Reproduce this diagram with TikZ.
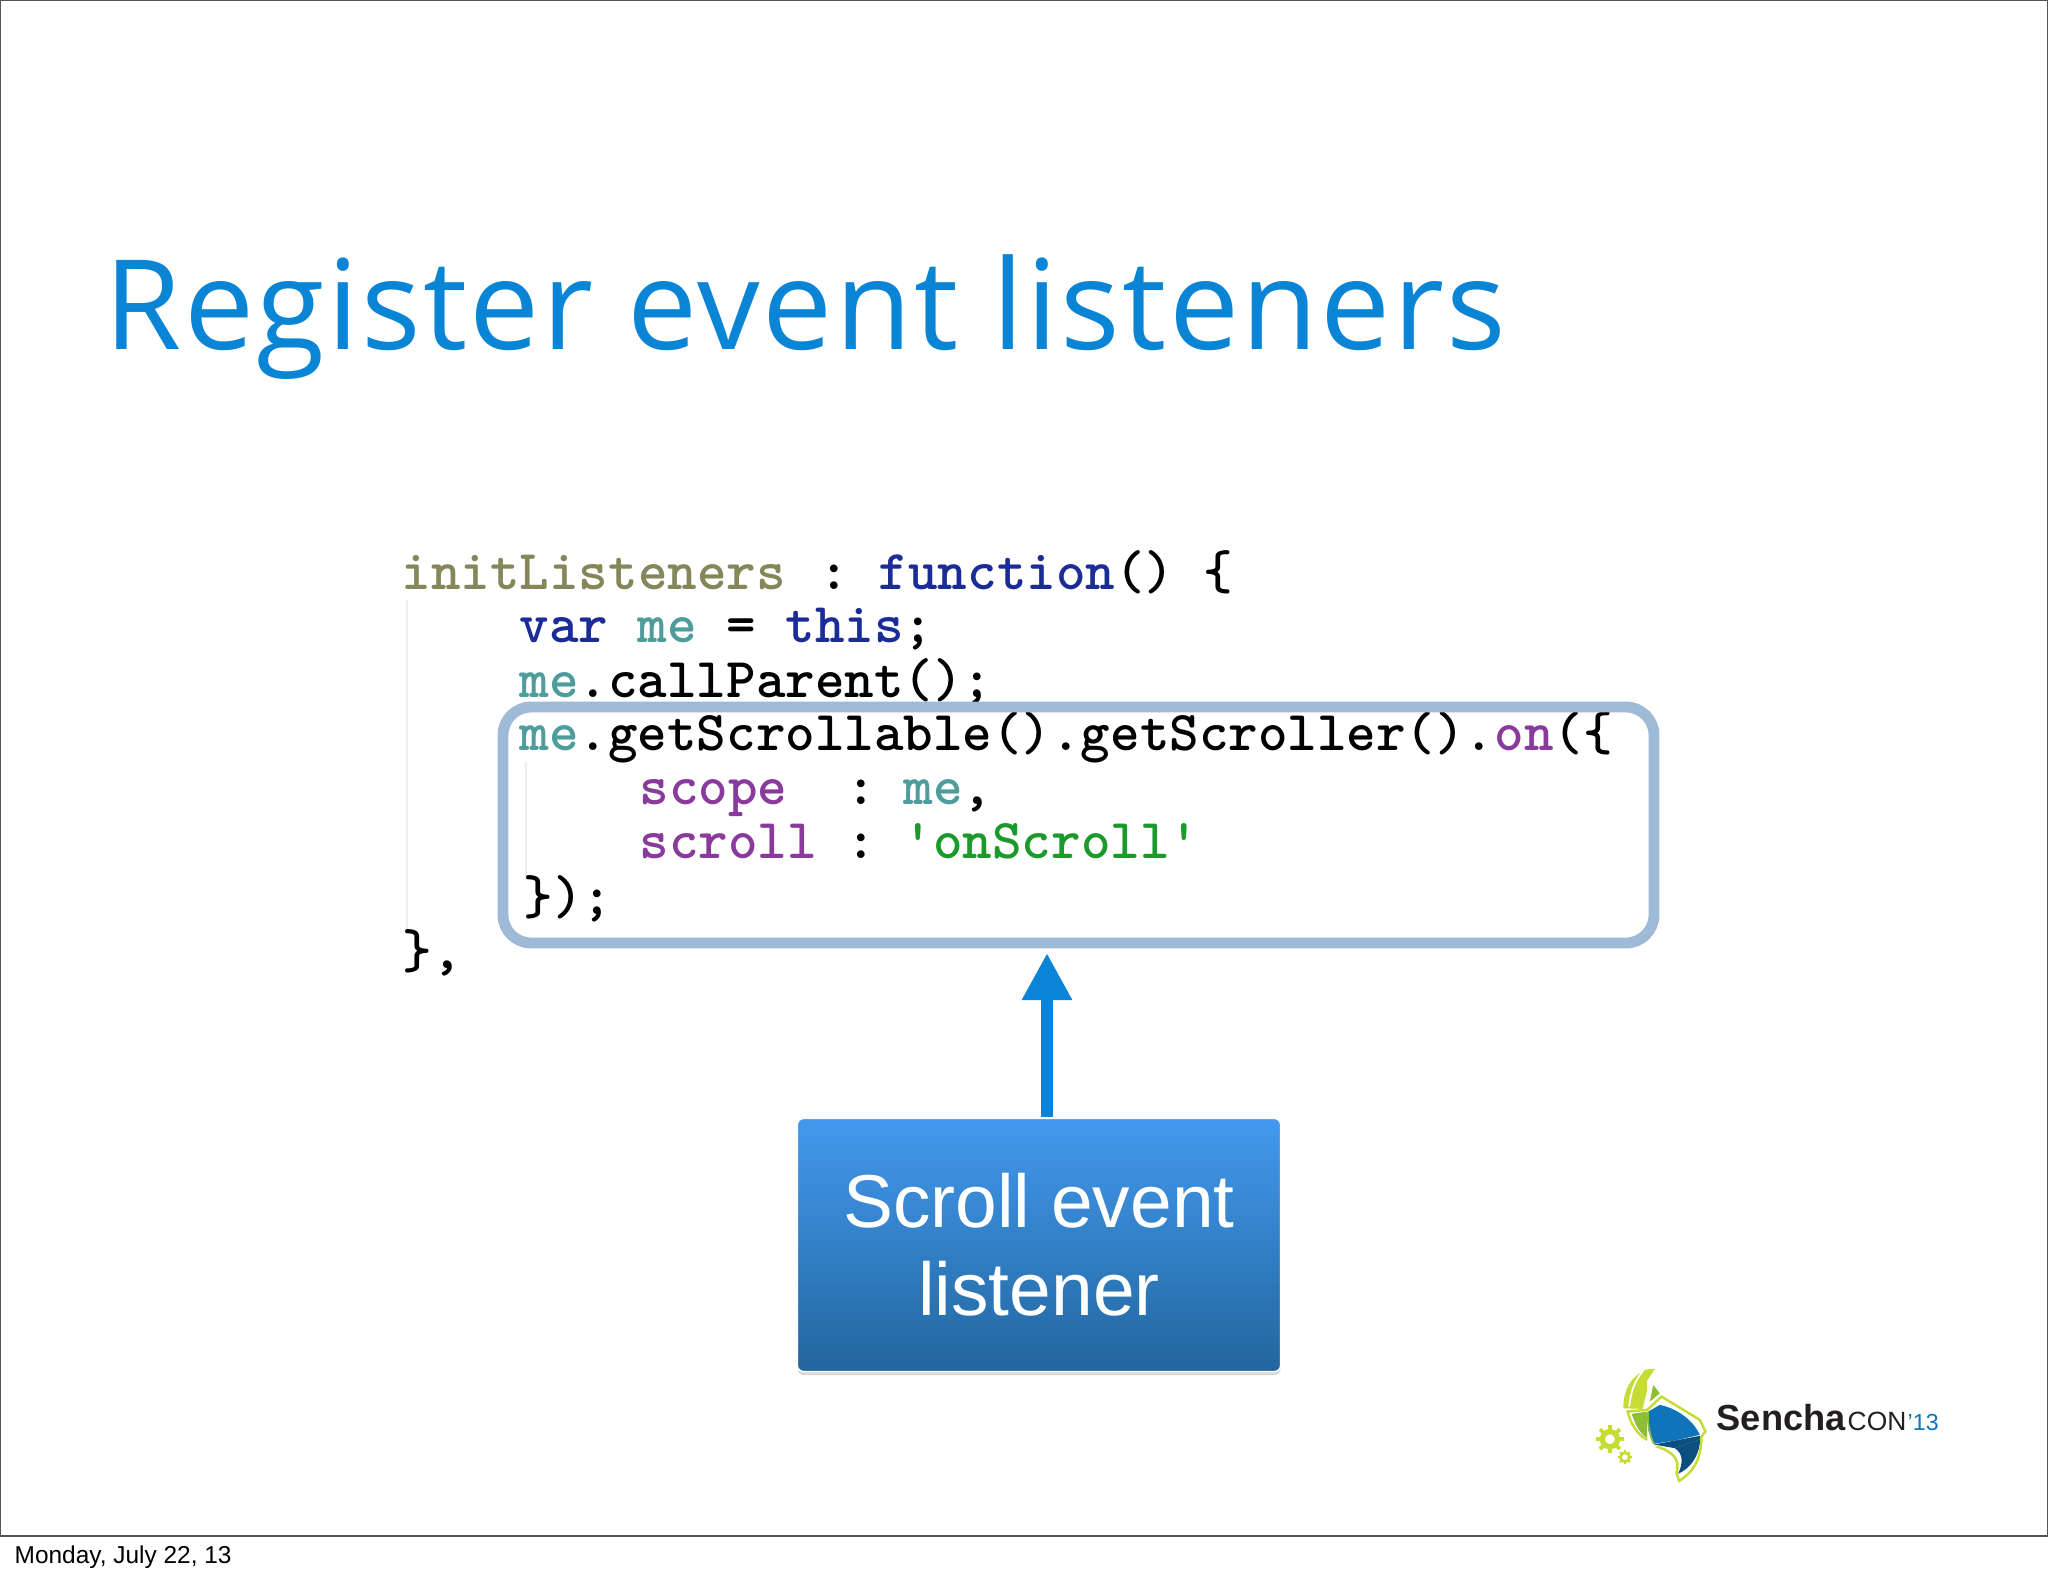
\documentclass[tikz,border=0pt]{standalone}
\usepackage{fontspec}
\setmainfont{Liberation Sans}
\newfontfamily\titlefont[LetterSpace=1.9]{Open Sans}
\usetikzlibrary{arrows.meta,positioning,shadows}
\definecolor{titleblue}{HTML}{0A85D6}
\definecolor{arrowblue}{HTML}{0A84D8}
\definecolor{framegrey}{HTML}{555555}
\definecolor{boxedge}{HTML}{9FBAD6}
\definecolor{listenertop}{HTML}{4399EE}
\definecolor{listenerbottom}{HTML}{22669E}
\definecolor{codeolive}{HTML}{85875A}
\definecolor{codenavy}{HTML}{1C2C96}
\definecolor{codeteal}{HTML}{4F9C9C}
\definecolor{codepurple}{HTML}{8A3A9C}
\definecolor{codegreen}{HTML}{1B9A2C}
\definecolor{codeguide}{HTML}{EFEFEF}
\definecolor{logolime}{HTML}{C6DC34}
\definecolor{logogreen}{HTML}{8DBE36}
\definecolor{logoblue}{HTML}{0F74BA}
\definecolor{logodark}{HTML}{0B4F7E}
\definecolor{logotext}{HTML}{231F20}
\newcommand{\kwd}[1]{\textcolor{codenavy}{#1}}
\newcommand{\mevar}[1]{\textcolor{codeteal}{#1}}
\newcommand{\prop}[1]{\textcolor{codepurple}{#1}}
\tikzset{
	codeline/.style={anchor=base west,inner sep=0pt,font=\fontsize{16}{16}\selectfont\ttfamily\bfseries},
	logoword/.style={anchor=base west,inner sep=0pt},
	listenerbox/.style={rectangle,rounded corners=1.8pt,draw=white,line width=0.4pt,top color=listenertop,bottom color=listenerbottom,text=white,align=center,minimum width=4.83cm,minimum height=2.53cm,inner sep=0pt,font=\fontsize{21.3}{25}\selectfont,drop shadow={opacity=0.3,shadow xshift=0pt,shadow yshift=-1pt}},
	listenerarrow/.style={draw=arrowblue,line width=3.4pt,-{Triangle[length=13.4pt,width=13.4pt]}},
	logogear/.style={draw=logolime,line width=1.5pt}
}
\begin{document}
\begin{tikzpicture}[x=0.01cm,y=-0.01cm]
	\fill[white] (0,0) rectangle (2048,1576);
	\useasboundingbox (0,0) rectangle (2048,1576);
	\draw[framegrey,line width=0.6pt] (0,0) rectangle (2048,1536);
	\node (title) at (104,350)[anchor=base west,inner sep=0pt,text=titleblue,font=\titlefont\fontsize{35.5}{40}\selectfont] {Register event listeners};
	\draw[codeguide,line width=0.4pt] (407,600)--(407,930);
	\draw[codeguide,line width=0.4pt] (526,762)--(526,880);
	\node (line1) at (401,589)[codeline] {\textcolor{codeolive}{initListeners} \hspace{1.1pt}:\hspace{-2.6pt} \kwd{function}() \{};
	\node (line2) at (519,642)[codeline] {\kwd{var} \mevar{me} = \kwd{this};};
	\node (line3) at (519,697)[codeline] {\mevar{me}.callParent();};
	\node (line4) at (519,750)[codeline] {\mevar{me}.getScrollable().getScroller().\prop{on}(\{};
	\node (line5) at (639,804)[codeline] {\prop{scope}\ \ :\hspace{-3.3pt} \mevar{me},};
	\node (line6) at (639,858)[codeline] {\prop{scroll} :\hspace{-3.3pt} \textcolor{codegreen}{'onScroll'}};
	\node (line7) at (523,914)[codeline] {\});};
	\node (line8) at (402,968)[codeline] {\},};
	\draw[boxedge,line width=3.1pt,rounded corners=8pt] (503,707) rectangle (1654,943);
	\node (listener) at (1039,1245)[listenerbox] {Scroll event\\listener};
	\coordinate (arrowtip) at (1047,953);
	\coordinate (arrowbase) at (1047,1117);
	\draw[listenerarrow] (arrowbase)--(arrowtip);
	\node (date) at (14,1563)[anchor=base west,inner sep=0pt,font=\fontsize{6.95}{8}\selectfont] {Monday, July 22, 13};
	\begin{scope}[shift={(1560,1340)},x=0.00333cm,y=-0.00333cm]
		\fill[logolime] (262,88) .. controls (215,105) and (190,150) .. (190,205) -- (248,207) -- (262,150) -- (262,122) -- (285,86) -- cycle;
		\draw[white,line width=0.5pt] (250,92) .. controls (222,125) and (212,160) .. (208,200);
		\fill[logogreen] (280,135) -- (300,160) -- (270,185) -- cycle;
		\fill[logogreen] (215,222) -- (262,215) -- (262,295) .. controls (238,280) and (225,250) .. (215,222) -- cycle;
		\fill[logoblue] (265,215) -- (300,195) .. controls (350,205) and (400,240) .. (420,285) -- (345,302) -- (282,312) -- (265,270) -- cycle;
		\fill[logodark] (282,314) -- (420,288) -- (422,298) -- (345,325) -- cycle;
		\fill[logodark] (422,298) .. controls (418,350) and (392,385) .. (355,402) .. controls (372,365) and (368,340) .. (345,325) -- cycle;
		\draw[logolime,line width=0.7pt] (262,300) .. controls (232,285) and (212,250) .. (203,215) -- (262,210) -- (305,170) -- (420,240) -- (437,275) -- (425,290) -- (425,300) .. controls (422,360) and (400,398) .. (358,423) -- (350,400) .. controls (362,360) and (340,335) .. (290,320);
		\draw[logogreen,line width=0.5pt] (265,215) .. controls (262,245) and (268,285) .. (282,312);
		\node (gearbig) at (150,298)[circle,logogear,minimum size=0.15cm,inner sep=0pt] {};
		\node (gearsmall) at (195,352)[circle,logogear,line width=0.8pt,minimum size=0.09cm,inner sep=0pt] {};
		\foreach \a in {0,45,...,315} {
			\draw[logolime,line width=1.1pt] (gearbig.center) ++(\a:28) -- ++(\a:14);
			\draw[logolime,line width=0.6pt] (gearsmall.center) ++(\a:14) -- ++(\a:7);
		}
	\end{scope}
	\node (sencha) at (1716,1430)[logoword,text=logotext,font=\fontsize{10.3}{12}\selectfont\bfseries] {Sencha};
	\node (con) at (1847,1430)[logoword,text=logotext,font=\fontsize{7.5}{8}\selectfont] {CON};
	\node (year) at (1907,1430)[logoword,text=logoblue,font=\fontsize{6.6}{8}\selectfont] {'13};
\end{tikzpicture}
\end{document}
